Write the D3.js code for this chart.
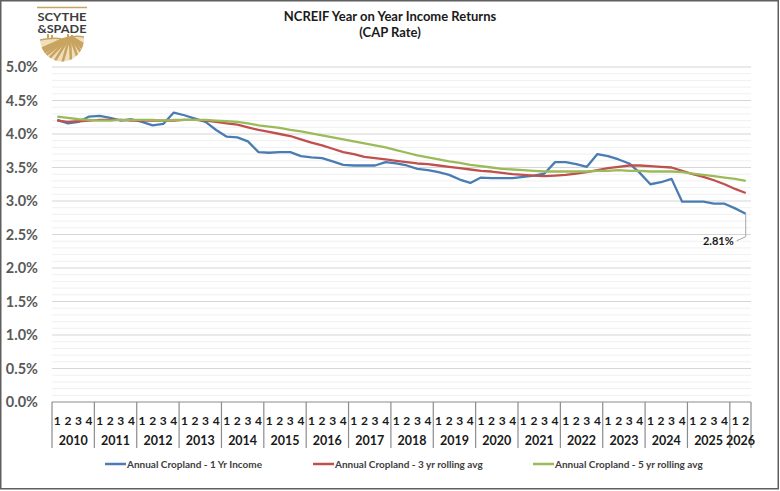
<!DOCTYPE html>
<html>
<head>
<meta charset="utf-8">
<script src="https://cdn.jsdelivr.net/npm/d3@7"></script>
<style>
  html, body { margin: 0; padding: 0; background: #fff; }
  svg { display: block; font-family: Lato, "Open Sans", sans-serif; }
</style>
</head>
<body>
<div id="chart"></div>
<script>
// quarterly data, 2010 Q1 .. 2026 Q2
const years = [2010, 2011, 2012, 2013, 2014, 2015, 2016, 2017, 2018,
    2019, 2020, 2021, 2022, 2023, 2024, 2025, 2026];
const lastYearQuarters = 2;

const oneYrIncome = [
    4.21, 4.16, 4.18, 4.26, 4.27, 4.24, 4.20, 4.22, 4.18, 4.13, 4.15, 4.32,
    4.28, 4.23, 4.18, 4.06, 3.96, 3.95, 3.89, 3.73, 3.72, 3.73, 3.73, 3.67,
    3.65, 3.64, 3.59, 3.54, 3.53, 3.53, 3.53, 3.58, 3.56, 3.53, 3.48, 3.46,
    3.43, 3.39, 3.32, 3.27, 3.35, 3.34, 3.34, 3.34, 3.36, 3.38, 3.41, 3.58,
    3.58, 3.55, 3.51, 3.70, 3.67, 3.62, 3.56, 3.42, 3.25, 3.28, 3.33, 2.99,
    2.99, 2.99, 2.96, 2.96, 2.89, 2.81
];
const threeYrAvg = [
    4.20, 4.18, 4.19, 4.20, 4.21, 4.21, 4.21, 4.20, 4.20, 4.20, 4.20, 4.20,
    4.21, 4.21, 4.20, 4.18, 4.16, 4.14, 4.10, 4.06, 4.03, 4.00, 3.97, 3.92,
    3.87, 3.83, 3.78, 3.73, 3.70, 3.66, 3.64, 3.62, 3.60, 3.58, 3.56, 3.55,
    3.53, 3.51, 3.49, 3.47, 3.45, 3.44, 3.42, 3.40, 3.39, 3.38, 3.37, 3.38,
    3.39, 3.41, 3.43, 3.46, 3.49, 3.51, 3.53, 3.53, 3.52, 3.51, 3.50, 3.45,
    3.40, 3.36, 3.31, 3.25, 3.18, 3.12
];
const fiveYrAvg = [
    4.26, 4.24, 4.22, 4.21, 4.20, 4.20, 4.21, 4.21, 4.21, 4.21, 4.20, 4.21,
    4.21, 4.21, 4.21, 4.20, 4.19, 4.18, 4.16, 4.13, 4.11, 4.09, 4.06, 4.04,
    4.01, 3.98, 3.95, 3.92, 3.89, 3.86, 3.83, 3.80, 3.76, 3.72, 3.68, 3.65,
    3.62, 3.59, 3.57, 3.54, 3.52, 3.50, 3.48, 3.47, 3.46, 3.45, 3.44, 3.44,
    3.44, 3.44, 3.44, 3.45, 3.45, 3.46, 3.45, 3.45, 3.44, 3.44, 3.44, 3.43,
    3.41, 3.39, 3.37, 3.35, 3.33, 3.30
];

const seriesNames = [
    "Annual Cropland - 1 Yr Income",
    "Annual Cropland - 3 yr rolling avg",
    "Annual Cropland - 5 yr rolling avg"
];
const seriesColors = ["#4a7cb4", "#c0504d", "#9bbb59"];
const seriesData = [oneYrIncome, threeYrAvg, fiveYrAvg];

const yTicks = [0, 0.5, 1, 1.5, 2, 2.5, 3, 3.5, 4, 4.5, 5];

// build quarter list
const periods = [];
years.forEach((yr, j) => {
    const n = j === years.length - 1 ? lastYearQuarters : 4;
    for (let q = 1; q <= n; q++) periods.push({ year: yr, q: q, key: yr + "Q" + q });
});

const width = 780, height = 491;
const plot = { left: 52, right: 751, top: 67, bottom: 402 };

const svg = d3.select("#chart")
    .append("svg")
    .attr("width", width)
    .attr("height", height);

svg.append("rect")
    .attr("x", 0.75).attr("y", 0.75)
    .attr("width", width - 2.5).attr("height", height - 3)
    .attr("fill", "#fff")
    .attr("stroke", "#5f5f5f")
    .attr("stroke-width", 1.5);

const x = d3.scaleBand()
    .domain(periods.map(d => d.key))
    .range([plot.left, plot.right])
    .padding(0);

const y = d3.scaleLinear()
    .domain([0, 5])
    .range([plot.bottom, plot.top]);

const cx = i => x(periods[i].key) + x.bandwidth() / 2;

// minor gridlines every 0.1%
svg.append("g")
    .selectAll("line")
    .data(d3.range(1, 50).map(d => d / 10).filter(d => Math.round(d * 10) % 5 !== 0))
    .join("line")
    .attr("x1", plot.left).attr("x2", plot.right)
    .attr("y1", d => y(d)).attr("y2", d => y(d))
    .attr("stroke", "#f0f0f0")
    .attr("stroke-width", 1);

// major gridlines
svg.append("g")
    .selectAll("line")
    .data(yTicks.filter(d => d > 0))
    .join("line")
    .attr("x1", plot.left).attr("x2", plot.right)
    .attr("y1", d => y(d)).attr("y2", d => y(d))
    .attr("stroke", "#d6d6d6")
    .attr("stroke-width", 1.2);

// y axis labels
const yAxis = svg.append("g")
    .attr("transform", `translate(${plot.left - 14},0)`)
    .call(d3.axisLeft(y).tickValues(yTicks).tickSize(0).tickFormat(d => d.toFixed(1) + "%"));
yAxis.select(".domain").remove();
yAxis.selectAll("text")
    .attr("x", 0)
    .style("font-family", "Lato, sans-serif")
    .style("font-size", "14.5px")
    .style("font-weight", "bold")
    .attr("fill", "#595959");

// x axis: baseline, quarter numbers, year labels, year separators
svg.append("line")
    .attr("x1", plot.left).attr("x2", plot.right)
    .attr("y1", plot.bottom).attr("y2", plot.bottom)
    .attr("stroke", "#8c8c8c")
    .attr("stroke-width", 1.2);

const xAxis = svg.append("g")
    .attr("transform", `translate(0,${plot.bottom})`)
    .call(d3.axisBottom(x).tickSize(0).tickFormat(k => k.split("Q")[1]));
xAxis.select(".domain").remove();
xAxis.selectAll("text")
    .attr("y", 14)
    .style("font-family", "Lato, sans-serif")
    .style("font-size", "12px")
    .style("font-weight", "bold")
    .attr("fill", "#1a1a1a");

const yearStart = years.map(yr => x(yr + "Q1"));
const yearEnd = years.map((yr, j) => j < years.length - 1 ? yearStart[j + 1] : plot.right);

svg.append("g")
    .selectAll("line")
    .data(yearStart.concat([plot.right]))
    .join("line")
    .attr("x1", d => d).attr("x2", d => d)
    .attr("y1", plot.bottom).attr("y2", plot.bottom + 46)
    .attr("stroke", "#8c8c8c")
    .attr("stroke-width", 1.2);

svg.append("g")
    .selectAll("text")
    .data(years)
    .join("text")
    .attr("x", (d, j) => (yearStart[j] + yearEnd[j]) / 2)
    .attr("y", plot.bottom + 43)
    .attr("text-anchor", "middle")
    .style("font-size", "12.5px")
    .style("font-weight", "bold")
    .attr("fill", "#1a1a1a")
    .text(d => d);

// series lines
const line = d3.line()
    .x((d, i) => cx(i))
    .y(d => y(d));

seriesData.forEach((data, s) => {
    svg.append("path")
        .datum(data)
        .attr("fill", "none")
        .attr("stroke", seriesColors[s])
        .attr("stroke-width", 2.3)
        .attr("stroke-linejoin", "round")
        .attr("d", line);
});

// last value callout
const lastI = oneYrIncome.length - 1;
const lx = cx(lastI), ly = y(oneYrIncome[lastI]);
svg.append("polyline")
    .attr("points", [[lx, ly], [lx, ly + 23], [lx - 9, ly + 27]].map(p => p.join(",")).join(" "))
    .attr("fill", "none")
    .attr("stroke", "#a6a6a6")
    .attr("stroke-width", 1);
svg.append("text")
    .attr("x", lx - 12)
    .attr("y", ly + 31)
    .attr("text-anchor", "end")
    .style("font-size", "11px")
    .style("font-weight", "bold")
    .attr("fill", "#1a1a1a")
    .text(oneYrIncome[lastI].toFixed(2) + "%");

// title
svg.append("text")
    .attr("x", 390).attr("y", 21)
    .attr("text-anchor", "middle")
    .style("font-size", "13px")
    .style("font-weight", "bold")
    .attr("fill", "#1a1a1a")
    .text("NCREIF Year on Year Income Returns");
svg.append("text")
    .attr("x", 390).attr("y", 37)
    .attr("text-anchor", "middle")
    .style("font-size", "13px")
    .style("font-weight", "bold")
    .attr("fill", "#1a1a1a")
    .text("(CAP Rate)");

// legend
const legendX = [105, 313, 533];
const legend = svg.append("g")
    .selectAll("g")
    .data(seriesNames)
    .join("g")
    .attr("transform", (d, i) => `translate(${legendX[i]},464)`);
legend.append("line")
    .attr("x1", 0).attr("x2", 21)
    .attr("stroke", (d, i) => seriesColors[i])
    .attr("stroke-width", 2.5);
legend.append("text")
    .attr("x", 22)
    .attr("y", 3.6)
    .style("font-size", "10px")
    .style("font-weight", "bold")
    .attr("fill", "#404040")
    .text(d => d);

// logo (Scythe & Spade)
const gold = "#c9a461";
const logo = svg.append("g");
logo.append("line")
    .attr("x1", 37).attr("x2", 87).attr("y1", 7.5).attr("y2", 7.5)
    .attr("stroke", gold).attr("stroke-width", 1.5);
logo.append("text")
    .attr("x", 37.5).attr("y", 20.5)
    .attr("textLength", 49).attr("lengthAdjust", "spacingAndGlyphs")
    .style("font-size", "10.5px").style("font-weight", "bold")
    .attr("fill", "#3d3d3d")
    .text("SCYTHE");
logo.append("text")
    .attr("x", 37.5).attr("y", 32.5)
    .attr("textLength", 49).attr("lengthAdjust", "spacingAndGlyphs")
    .style("font-size", "10.5px").style("font-weight", "bold")
    .attr("fill", "#3d3d3d")
    .text("&SPADE");

svg.append("clipPath").attr("id", "bowl")
    .append("path")
    .attr("d", "M40,40 Q55,37 62,39 Q74,35 84,37 A22,23 0 0 1 40,40 Z");
const field = logo.append("g").attr("clip-path", "url(#bowl)");
field.append("rect")
    .attr("x", 38).attr("y", 34).attr("width", 50).attr("height", 30)
    .attr("fill", "#efe0bd");
d3.range(-6, 7).forEach(k => {
    field.append("line")
        .attr("x1", 70).attr("y1", 36)
        .attr("x2", 62 + k * 9).attr("y2", 64)
        .attr("stroke", gold).attr("stroke-width", 2.6);
});
logo.append("path")
    .attr("d", "M40,40 Q55,37 62,39 Q74,35 84,37")
    .attr("fill", "none").attr("stroke", gold).attr("stroke-width", 1.5);
[[47, 34], [51, 35], [67, 34], [71, 35]].forEach(p => {
    logo.append("rect")
        .attr("x", p[0]).attr("y", p[1])
        .attr("width", 2).attr("height", 4)
        .attr("fill", gold);
});
</script>
</body>
</html>
